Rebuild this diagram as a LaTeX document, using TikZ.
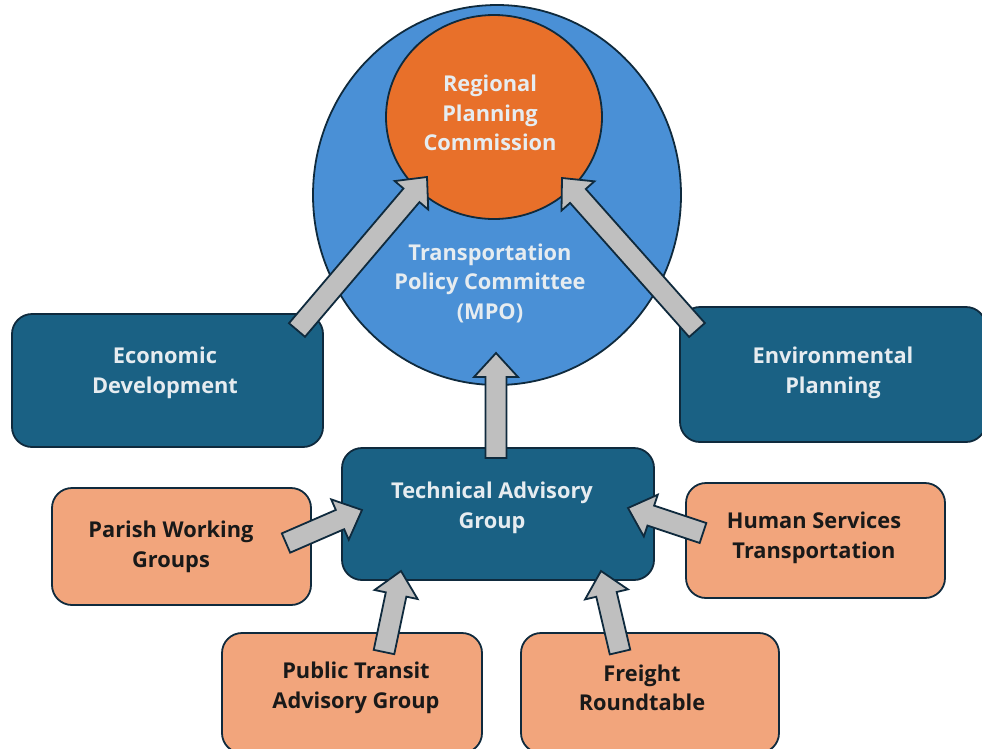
\documentclass[tikz,border=0pt]{standalone}
\usepackage{fontspec}
\setmainfont{Open Sans}
\usetikzlibrary{calc,shapes.geometric}
\definecolor{teal}{HTML}{1A6184}
\definecolor{edge}{HTML}{0F2A3D}
\definecolor{tpcblue}{HTML}{4A90D6}
\definecolor{rpcorange}{HTML}{E8702A}
\definecolor{salmon}{HTML}{F2A57C}
\definecolor{arrowgray}{HTML}{BFBFBF}
\definecolor{lighttext}{HTML}{E6ECF0}
\tikzset{
  shapebase/.style={draw=edge, line width=1.8pt, inner sep=0pt},
  darkbox/.style={shapebase, fill=teal, rounded corners=20pt},
  lightbox/.style={shapebase, fill=salmon, rounded corners=20pt},
  label text/.style={align=center, inner sep=0pt,
    font=\fontsize{21.8}{29.5}\selectfont\bfseries},
  light text/.style={label text, text=lighttext},
  dark text/.style={label text, text=black!90},
  blockarrow/.style={draw=edge, fill=arrowgray, line width=1.8pt, line join=miter}
}
\newcommand{\blockarr}[2]{%
  \draw[blockarrow]
    ($(#1)!10.5pt!90:(#2)$) --
    ($($(#2)!24pt!(#1)$)!10.5pt!-90:(#1)$) --
    ($($(#2)!24pt!(#1)$)!22pt!-90:(#1)$) --
    (#2) --
    ($($(#2)!24pt!(#1)$)!22pt!90:(#1)$) --
    ($($(#2)!24pt!(#1)$)!10.5pt!90:(#1)$) --
    ($(#1)!10.5pt!-90:(#2)$) -- cycle;}
\begin{document}
\begin{tikzpicture}[x=1pt,y=-1pt]
\useasboundingbox (0,0) rectangle (982,748);
\clip (0,0) rectangle (982,748);
\fill[white] (0,0) rectangle (982,748);
% circles
\node[shapebase, ellipse, fill=tpcblue, minimum width=368pt, minimum height=380pt] (tpc) at (497,195) {};
\node[shapebase, ellipse, fill=rpcorange, minimum width=216pt, minimum height=204pt] (rpc) at (494,117) {};
% boxes
\node[darkbox, minimum width=311pt, minimum height=133pt] (ed) at (167.5,380.5) {};
\node[darkbox, minimum width=306pt, minimum height=135pt] (ep) at (833,374.5) {};
\node[darkbox, minimum width=312pt, minimum height=132pt] (tag) at (498,514) {};
\node[lightbox, minimum width=259pt, minimum height=117pt] (pwg) at (181.5,546.5) {};
\node[lightbox, minimum width=259pt, minimum height=115pt] (hst) at (815.5,540.5) {};
\node[lightbox, minimum width=260pt, minimum height=120pt] (ptag) at (352,693) {};
\node[lightbox, minimum width=258pt, minimum height=120pt] (fr) at (650,693) {};
% texts
\node[light text] (rpct) at (490,113) {Regional\\Planning\\Commission};
\node[light text] (tpct) at (490,283) {Transportation\\Policy Committee\\(MPO)};
\node[light text] (edt) at (165,373) {Economic\\Development};
\node[light text] (ept) at (833,373) {Environmental\\Planning};
\node[light text] (tagt) at (492,508) {Technical Advisory\\Group};
\node[dark text] (pwgt) at (171,547) {Parish Working\\Groups};
\node[dark text] (hstt) at (814,538) {Human Services\\Transportation};
\node[dark text] (ptagt) at (356,688) {Public Transit\\Advisory Group};
\node[dark text] (frt) at (642,688) {Freight\\Roundtable};
% arrow endpoints
\coordinate (a1s) at (297,330); \coordinate (a1e) at (427,177);
\coordinate (a2s) at (496,458); \coordinate (a2e) at (496,353);
\coordinate (a3s) at (697,330); \coordinate (a3e) at (562,178);
\coordinate (a4s) at (286,543); \coordinate (a4e) at (362,510);
\coordinate (a5s) at (703,533); \coordinate (a5e) at (628,508);
\coordinate (a6s) at (384,652); \coordinate (a6e) at (401,571);
\coordinate (a7s) at (620,652); \coordinate (a7e) at (601,571);
\blockarr{a1s}{a1e}
\blockarr{a2s}{a2e}
\blockarr{a3s}{a3e}
\blockarr{a4s}{a4e}
\blockarr{a5s}{a5e}
\blockarr{a6s}{a6e}
\blockarr{a7s}{a7e}
\end{tikzpicture}
\end{document}
